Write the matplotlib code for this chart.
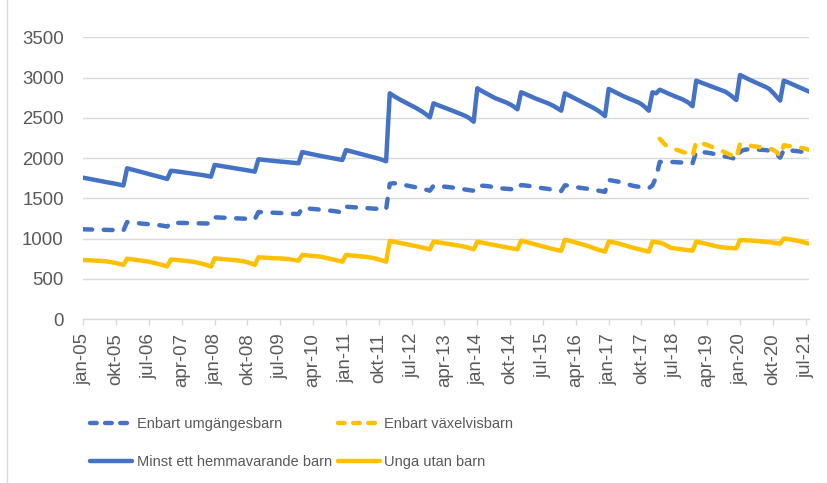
import numpy as np
import matplotlib.pyplot as plt
from matplotlib.lines import Line2D

plt.rcParams['font.family'] = ['Liberation Sans', 'DejaVu Sans']

# monthly values jan-05 .. aug-21
umgange = [
    1115, 1114, 1112, 1111, 1110, 1109, 1108, 1107, 1106, 1105, 1103, 1100,  # 2005
    1205, 1200, 1195, 1190, 1186, 1182, 1178, 1174, 1170, 1165, 1158, 1150,  # 2006
    1195, 1195, 1194, 1194, 1193, 1192, 1191, 1190, 1189, 1188, 1187, 1190,  # 2007
    1264, 1262, 1260, 1258, 1256, 1254, 1252, 1250, 1248, 1245, 1242, 1239,  # 2008
    1330, 1328, 1326, 1324, 1322, 1320, 1317, 1314, 1311, 1308, 1306, 1304,  # 2009
    1380, 1376, 1372, 1368, 1364, 1360, 1355, 1350, 1345, 1340, 1332, 1322,  # 2010
    1396, 1392, 1389, 1386, 1383, 1380, 1377, 1374, 1371, 1368, 1365, 1362,  # 2011
    1680, 1688, 1683, 1675, 1666, 1657, 1648, 1638, 1628, 1617, 1606, 1595,  # 2012
    1657, 1652, 1648, 1645, 1640, 1635, 1628, 1620, 1613, 1606, 1600, 1595,  # 2013
    1657, 1657, 1655, 1650, 1643, 1635, 1628, 1622, 1618, 1614, 1611, 1610,  # 2014
    1665, 1660, 1655, 1648, 1640, 1632, 1625, 1620, 1612, 1604, 1596, 1590,  # 2015
    1662, 1658, 1650, 1640, 1632, 1626, 1620, 1614, 1606, 1597, 1588, 1580,  # 2016
    1728, 1720, 1712, 1704, 1692, 1678, 1664, 1652, 1645, 1638, 1631, 1625,  # 2017
    1660, 1760, 1952, 1955, 1955, 1952, 1950, 1948, 1945, 1942, 1938, 1935,  # 2018
    2080, 2076, 2072, 2068, 2060, 2050, 2040, 2030, 2020, 2012, 2000, 1976,  # 2019
    2080, 2100, 2108, 2110, 2108, 2105, 2102, 2100, 2092, 2078, 2055, 2005,  # 2020
    2100, 2097, 2094, 2090, 2085, 2078, 2070, 2065,                          # 2021
]

vaxelvis = [np.nan] * 158 + [
    2240, 2190, 2145, 2128, 2112, 2098, 2082, 2066, 2045, 2020,              # mar-dec 2018
    2204, 2190, 2176, 2163, 2145, 2128, 2110, 2090, 2068, 2048, 2025, 1997,  # 2019
    2175, 2168, 2160, 2152, 2145, 2138, 2132, 2126, 2120, 2105, 2075, 2025,  # 2020
    2160, 2152, 2146, 2140, 2134, 2125, 2115, 2100,                          # 2021
]

hemma = [
    1756, 1748, 1739, 1730, 1722, 1713, 1704, 1696, 1688, 1679, 1670, 1660,  # 2005
    1873, 1862, 1850, 1838, 1826, 1814, 1802, 1790, 1778, 1766, 1753, 1740,  # 2006
    1843, 1838, 1832, 1826, 1820, 1813, 1806, 1800, 1794, 1787, 1778, 1769,  # 2007
    1915, 1908, 1900, 1893, 1885, 1878, 1870, 1863, 1855, 1848, 1840, 1831,  # 2008
    1985, 1980, 1975, 1970, 1965, 1961, 1957, 1953, 1949, 1945, 1940, 1935,  # 2009
    2075, 2065, 2055, 2045, 2036, 2027, 2018, 2010, 2002, 1994, 1985, 1976,  # 2010
    2100, 2088, 2076, 2064, 2052, 2040, 2028, 2016, 2004, 1992, 1978, 1960,  # 2011
    2805, 2775, 2748, 2722, 2698, 2675, 2652, 2628, 2602, 2575, 2542, 2507,  # 2012
    2681, 2662, 2645, 2628, 2610, 2592, 2574, 2556, 2538, 2518, 2490, 2452,  # 2013
    2868, 2840, 2815, 2790, 2766, 2743, 2725, 2708, 2690, 2668, 2640, 2607,  # 2014
    2818, 2800, 2780, 2760, 2740, 2722, 2705, 2688, 2668, 2645, 2618, 2589,  # 2015
    2805, 2782, 2758, 2735, 2712, 2690, 2668, 2645, 2620, 2592, 2560, 2523,  # 2016
    2860, 2838, 2815, 2792, 2770, 2750, 2732, 2715, 2695, 2670, 2632, 2589,  # 2017
    2818, 2805, 2850, 2830, 2810, 2790, 2770, 2752, 2735, 2712, 2685, 2645,  # 2018
    2962, 2945, 2928, 2910, 2893, 2876, 2860, 2843, 2825, 2795, 2760, 2722,  # 2019
    3033, 3010, 2988, 2966, 2945, 2925, 2905, 2885, 2860, 2815, 2765, 2715,  # 2020
    2962, 2945, 2925, 2905, 2885, 2865, 2845, 2825,                          # 2021
]

unga = [
    733, 731, 729, 727, 724, 721, 717, 712, 704, 695, 684, 671,  # 2005
    750, 744, 738, 732, 726, 719, 712, 702, 690, 678, 665, 655,  # 2006
    740, 736, 732, 728, 724, 718, 712, 704, 694, 682, 668, 652,  # 2007
    754, 750, 746, 742, 738, 734, 730, 724, 716, 705, 690, 672,  # 2008
    767, 764, 761, 758, 756, 755, 753, 750, 746, 740, 733, 725,  # 2009
    796, 792, 788, 784, 780, 775, 765, 755, 745, 735, 724, 712,  # 2010
    796, 792, 788, 784, 780, 775, 769, 762, 752, 740, 727, 712,  # 2011
    970, 962, 953, 944, 935, 926, 917, 908, 898, 888, 877, 866,  # 2012
    961, 955, 948, 941, 934, 927, 920, 912, 903, 893, 880, 866,  # 2013
    961, 952, 943, 934, 925, 916, 906, 898, 890, 882, 874, 866,  # 2014
    973, 962, 950, 938, 926, 914, 902, 890, 878, 866, 857, 849,  # 2015
    985, 975, 962, 950, 938, 926, 912, 896, 880, 864, 850, 837,  # 2016
    961, 955, 946, 935, 922, 908, 894, 882, 870, 860, 848, 837,  # 2017
    961, 955, 948, 935, 910, 885, 878, 872, 866, 860, 855, 849,  # 2018
    961, 952, 942, 932, 921, 910, 899, 893, 887, 883, 880, 879,  # 2019
    982, 980, 978, 975, 972, 968, 963, 958, 955, 950, 945, 935,  # 2020
    1000, 995, 988, 980, 970, 958, 945, 935,                     # 2021
]

tick_labels = ['jan-05', 'okt-05', 'jul-06', 'apr-07', 'jan-08', 'okt-08',
               'jul-09', 'apr-10', 'jan-11', 'okt-11', 'jul-12', 'apr-13',
               'jan-14', 'okt-14', 'jul-15', 'apr-16', 'jan-17', 'okt-17',
               'jul-18', 'apr-19', 'jan-20', 'okt-20', 'jul-21']

BLUE = '#4472C4'
YELLOW = '#FFC000'
GRID = '#D9D9D9'
TXT = '#595959'

x = np.arange(len(hemma))

fig = plt.figure(figsize=(8.28, 4.83), dpi=100)
ax = fig.add_axes([83.3 / 828, 164 / 483, 726 / 828, 281.6 / 483])

lw = 3.2
l1, = ax.plot(x, umgange, color=BLUE, lw=lw, dashes=(2, 2.6),
              dash_capstyle='round', dash_joinstyle='round',
              label='Enbart umgängesbarn')
l2, = ax.plot(x, vaxelvis, color=YELLOW, lw=lw, dashes=(2, 2.6),
              dash_capstyle='round', dash_joinstyle='round',
              label='Enbart växelvisbarn')
l3, = ax.plot(x, hemma, color=BLUE, lw=lw, solid_capstyle='round',
              solid_joinstyle='round', label='Minst ett hemmavarande barn')
l4, = ax.plot(x, unga, color=YELLOW, lw=lw, solid_capstyle='round',
              solid_joinstyle='round', label='Unga utan barn')

ax.set_xlim(0, len(hemma) - 1)
ax.set_ylim(0, 3500)
ax.set_yticks(np.arange(0, 3501, 500))
ax.set_xticks(np.arange(0, len(hemma), 9))
ax.set_xticklabels(tick_labels, rotation=90)
ax.grid(axis='y', color=GRID, lw=1)
ax.set_axisbelow(True)
for s in ['top', 'right', 'left']:
    ax.spines[s].set_visible(False)
ax.spines['bottom'].set_color(GRID)
ax.spines['bottom'].set_linewidth(1)
ax.tick_params(axis='y', length=0, pad=14, labelsize=13.4, labelcolor=TXT)
ax.tick_params(axis='x', length=4, width=1, color=GRID, pad=6,
               labelsize=13.4, labelcolor=TXT)

# legend keys: shorter dashes than in the plot, as in the original legend
h1 = Line2D([], [], color=BLUE, lw=lw, dashes=(1.5, 1.9),
            dash_capstyle='round', label=l1.get_label())
h2 = Line2D([], [], color=YELLOW, lw=lw, dashes=(1.5, 1.9),
            dash_capstyle='round', label=l2.get_label())

leg = fig.legend(handles=[h1, l3, h2, l4], ncol=2, loc='upper left',
                 bbox_to_anchor=(90 / 828, 1 - 417 / 483), frameon=False,
                 prop={'size': 10.5},
                 labelcolor=TXT, handlelength=2.9, handletextpad=0.3,
                 columnspacing=0.4, labelspacing=1.65, borderpad=0,
                 borderaxespad=0)

# chart border on the left edge
fig.add_artist(Line2D([7.5 / 828, 7.5 / 828], [0, 1], color=GRID, lw=1))

fig.savefig('out.png', dpi=100)
